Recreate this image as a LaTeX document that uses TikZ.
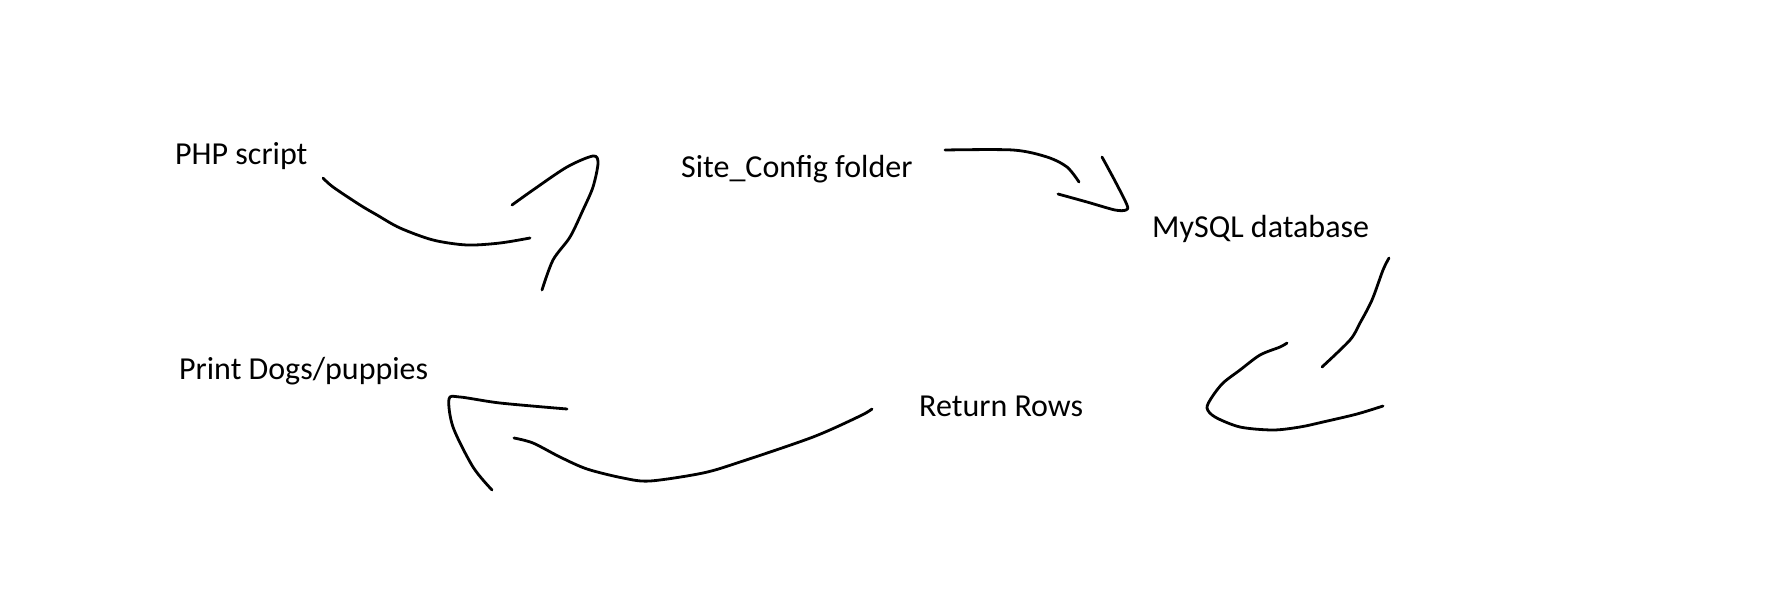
\documentclass[tikz,border=0pt]{standalone}
\usepackage{fontspec}
\setmainfont{Carlito}
\usepackage{tikz}

\tikzset{
    stroke/.style={black, line width=2.8pt, line cap=round, line join=round},
    label/.style={anchor=base west, inner sep=0pt, font=\fontsize{32}{38}\selectfont}
}

\begin{document}
\begin{tikzpicture}[x=1pt, y=-1pt]
        % canvas
        \fill[white] (0,0) rectangle (1766,608);
        \useasboundingbox (0,0) rectangle (1766,608);

        % Labels
        \node[label] (php) at (175,164) {PHP script};
        \node[label] (site) at (681,177) {Site\_Config folder};
        \node[label] (mysql) at (1152,237) {MySQL database};
        \node[label] (print) at (179,379) {Print Dogs/puppies};
        \node[label] (rows) at (919,416) {Return Rows};

        % PHP script -> Site_Config folder
        \draw[stroke] plot[smooth] coordinates {(323,178) (333,187) (360,205) (377,215)
            (400,228) (433,240) (467,245) (500,243) (530,238)};
        \draw[stroke] plot[smooth] coordinates {(512,205) (533,190) (567,167) (593,156)
            (598,163) (593,187) (583,210) (570,237) (553,260) (542,290)};

        % Site_Config folder -> MySQL database
        \draw[stroke] plot[smooth] coordinates {(945,150) (1013,150) (1047,157) (1067,167) (1079,182)};
        \draw[stroke] plot[smooth] coordinates {(1102,157) (1115,181) (1127,205) (1126,210)
            (1115,210) (1087,202) (1058,194)};

        % MySQL database -> Return Rows
        \draw[stroke] plot[smooth] coordinates {(1389,258) (1383,270) (1372,300) (1360,323)
            (1350,340) (1322,367)};
        \draw[stroke] plot[smooth] coordinates {(1287,343) (1280,347) (1260,355) (1240,370)
            (1223,383) (1212,397) (1207,408) (1215,417) (1240,427) (1273,430) (1300,427)
            (1323,422) (1357,414) (1383,406)};

        % Return Rows -> Print Dogs/puppies
        \draw[stroke] plot[smooth] coordinates {(872,409) (860,416) (813,437) (740,462)
            (703,473) (650,481) (623,478) (587,469) (560,457) (533,443) (514,438)};
        \draw[stroke] plot[smooth] coordinates {(567,409) (500,403) (460,397) (449,399)
            (453,427) (473,467) (492,490)};
    \end{tikzpicture}
\end{document}
